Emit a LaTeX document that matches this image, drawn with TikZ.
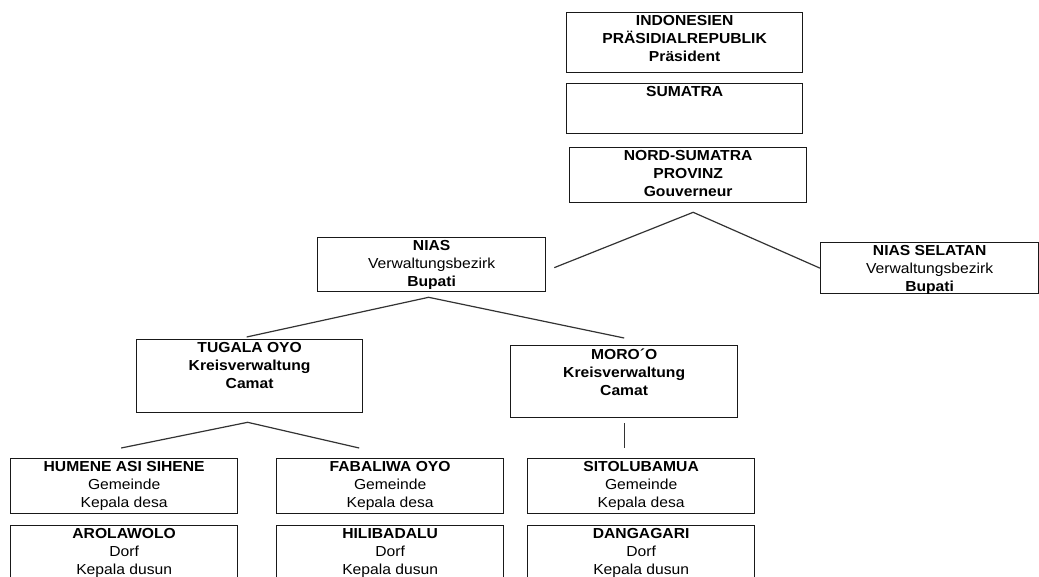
\documentclass[tikz,border=0pt]{standalone}
\usepackage{fontspec}
\setmainfont[FakeStretch=1.08]{Liberation Sans}
\usetikzlibrary{calc}
\tikzset{
  box/.style={draw=black!90, line width=1.3pt, inner sep=0pt, anchor=north west, minimum width=227pt},
  txt/.style={anchor=north, align=center, inner sep=0pt, font=\fontsize{14.5}{18}\selectfont, text=black},
  conn/.style={draw=black!80, line width=1.2pt},
}
\begin{document}
\begin{tikzpicture}[x=1pt, y=-1pt]
\clip (0,0) rectangle (1039,576);
\fill[white] (0,0) rectangle (1039,576);
% boxes
\node[box, minimum width=236pt, minimum height=60pt] (ind) at (566,12) {};
\node[box, minimum width=236pt, minimum height=50pt] (sum) at (566,83) {};
\node[box, minimum width=237pt, minimum height=55pt] (nord) at (569,147) {};
\node[box, minimum width=228pt, minimum height=54pt] (nias) at (317,237) {};
\node[box, minimum width=218pt, minimum height=51pt] (niass) at (820,242) {};
\node[box, minimum width=226pt, minimum height=73pt] (tug) at (136,339) {};
\node[box, minimum width=227pt, minimum height=72pt] (moro) at (510,345) {};
\node[box, minimum height=55pt] (hum) at (10,458) {};
\node[box, minimum height=55pt] (fab) at (276,458) {};
\node[box, minimum height=55pt] (sit) at (527,458) {};
\node[box, minimum height=80pt] (aro) at (10,525) {};
\node[box, minimum height=80pt] (hil) at (276,525) {};
\node[box, minimum height=80pt] (dan) at (527,525) {};
% texts
\node[txt] (tind) at ([yshift=-3pt]ind.north) {\textbf{INDONESIEN}\\\textbf{PRÄSIDIALREPUBLIK}\\\textbf{Präsident}};
\node[txt] (tsum) at ([yshift=-3pt]sum.north) {\textbf{SUMATRA}};
\node[txt] (tnord) at ([yshift=-3pt]nord.north) {\textbf{NORD-SUMATRA}\\\textbf{PROVINZ}\\\textbf{Gouverneur}};
\node[txt] (tnias) at ([yshift=-3pt]nias.north) {\textbf{NIAS}\\Verwaltungsbezirk\\\textbf{Bupati}};
\node[txt] (tniass) at ([yshift=-3pt]niass.north) {\textbf{NIAS SELATAN}\\Verwaltungsbezirk\\\textbf{Bupati}};
\node[txt] (ttug) at ([yshift=-3pt]tug.north) {\textbf{TUGALA OYO}\\\textbf{Kreisverwaltung}\\\textbf{Camat}};
\node[txt] (tmoro) at ([yshift=-4pt]moro.north) {\textbf{MORO´O}\\\textbf{Kreisverwaltung}\\\textbf{Camat}};
\node[txt] (thum) at ([yshift=-3pt]hum.north) {\textbf{HUMENE ASI SIHENE}\\Gemeinde\\Kepala desa};
\node[txt] (tfab) at ([yshift=-3pt]fab.north) {\textbf{FABALIWA OYO}\\Gemeinde\\Kepala desa};
\node[txt] (tsit) at ([yshift=-3pt]sit.north) {\textbf{SITOLUBAMUA}\\Gemeinde\\Kepala desa};
\node[txt] (taro) at ([yshift=-3pt]aro.north) {\textbf{AROLAWOLO}\\Dorf\\Kepala dusun};
\node[txt] (thil) at ([yshift=-3pt]hil.north) {\textbf{HILIBADALU}\\Dorf\\Kepala dusun};
\node[txt] (tdan) at ([yshift=-3pt]dan.north) {\textbf{DANGAGARI}\\Dorf\\Kepala dusun};
% connectors
\coordinate (p1) at ($(nord.south)+(5,9)$);
\draw[conn] ($(nias.east)+(8,3)$) -- (p1) -- (niass.west);
\coordinate (p2) at ($(nias.south)+(-3,5)$);
\draw[conn] ($(tug.north)+(-3,-2)$) -- (p2) -- ($(moro.north)+(0,-7)$);
\coordinate (p3) at ($(tug.south)+(-2,9)$);
\draw[conn] ($(hum.north)+(-3,-10)$) -- (p3) -- ($(fab.north)+(-31,-10)$);
\draw[conn] ($(moro.south)+(0,5)$) -- ($(sit.north -| moro.south)+(0,-10)$);
\end{tikzpicture}
\end{document}
